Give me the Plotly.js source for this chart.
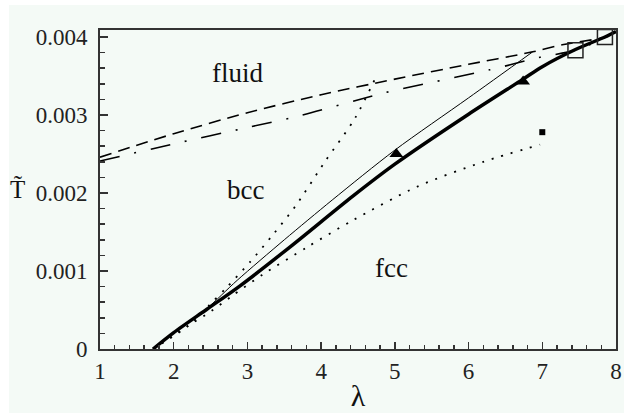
<!DOCTYPE html>
<html>
<head>
<meta charset="utf-8">
<script src="https://cdn.plot.ly/plotly-3.0.1.min.js"></script>
<style>
  body { margin: 0; background: #ffffff; }
  #plot { width: 624px; height: 413px; }
</style>
</head>
<body>
<div id="plot"></div>
<script>
// bcc-fcc coexistence (thick solid)
let thickX = [1.72, 2.0, 2.45, 2.9, 3.58, 4.43, 5.0, 6.0, 6.74, 7.0, 7.45, 7.85, 8.0]
let thickY = [0, 0.00021, 0.00051, 0.00081, 0.00131, 0.00196, 0.00237, 0.00301, 0.00346, 0.00362, 0.00384, 0.004, 0.00407]

// thin solid curve
let thinX = [1.72, 2.0, 2.45, 2.86, 3.5, 4.15, 5.0, 6.0, 6.87]
let thinY = [0, 0.00021, 0.00052, 0.00088, 0.0014, 0.00191, 0.00255, 0.00322, 0.00381]

// dotted curves
let dotUpX = [1.72, 2.2, 2.48, 2.71, 3.04, 3.35, 3.65, 4.05, 4.46, 4.76]
let dotUpY = [0, 0.0003, 0.00056, 0.00078, 0.00112, 0.00147, 0.00183, 0.0024, 0.00296, 0.00352]
let dotLowX = [1.72, 2.2, 2.5, 2.79, 3.2, 3.8, 4.43, 5.3, 6.2, 6.97]
let dotLowY = [0, 0.0003, 0.00048, 0.00068, 0.00095, 0.0013, 0.00165, 0.00208, 0.0024, 0.00262]

// dashed melting lines
let dashX = [1, 2, 3, 4, 5, 6, 6.87, 7.27, 7.85]
let dashY = [0.00246, 0.00276, 0.00303, 0.00326, 0.00346, 0.00365, 0.00381, 0.0039, 0.00399]
let dashDotX = [1, 2, 3, 3.71, 4.84, 6.29, 6.97, 7.45, 7.85]
let dashDotY = [0.00241, 0.00263, 0.00284, 0.00299, 0.00328, 0.00358, 0.00374, 0.00383, 0.00399]

// simulation points
let triX = [5.02, 6.74]
let triY = [0.0025, 0.00343]
let openSqX = [7.45, 7.85]
let openSqY = [0.00383, 0.004]
let smallSqX = [7.0]
let smallSqY = [0.00278]

// region labels
let regionNames = ["fluid", "bcc", "fcc"]
let regionX = [2.86, 2.97, 4.96]
let regionY = [0.00354, 0.00204, 0.00104]

let xTicks = [1, 2, 3, 4, 5, 6, 7, 8]
let yTicks = [0, 0.001, 0.002, 0.003, 0.004]
let yTickText = ["0", "0.001", "0.002", "0.003", "0.004"]

let bg = "#f4faf6"
let serif = "Liberation Serif"

function lineTrace(x, y, width, dash) {
    return {
        x: x, y: y, type: "scatter", mode: "lines",
        line: {color: "#000000", width: width, dash: dash, shape: "spline", smoothing: 0.8},
        hoverinfo: "skip"
    }
}

let data = [
    lineTrace(dashX, dashY, 1.6, "12px,7px"),
    lineTrace(dashDotX, dashDotY, 1.6, "20px,15px,2px,15px"),
    lineTrace(dotUpX, dotUpY, 1.8, "2px,8px"),
    lineTrace(dotLowX, dotLowY, 1.8, "2px,8px"),
    lineTrace(thinX, thinY, 1, "solid"),
    lineTrace(thickX, thickY, 3.5, "solid"),
    {
        x: triX, y: triY, type: "scatter", mode: "markers",
        marker: {symbol: "triangle-up", size: 12, color: "#000000"}
    },
    {
        x: openSqX, y: openSqY, type: "scatter", mode: "markers",
        marker: {symbol: "square-open", size: 15, color: "#222222", line: {width: 1.5}}
    },
    {
        x: smallSqX, y: smallSqY, type: "scatter", mode: "markers",
        marker: {symbol: "square", size: 6, color: "#000000"}
    }
]

let annotations = []
for (let i = 0; i < regionNames.length; i++) {
    annotations.push({
        x: regionX[i], y: regionY[i], xref: "x", yref: "y",
        text: regionNames[i], showarrow: false,
        font: {family: serif, size: 27, color: "#111111"}
    })
}
// y axis label, upright
annotations.push({
    x: -0.178, y: 0.5, xref: "paper", yref: "paper",
    text: "T\u0303", showarrow: false,
    font: {family: serif, size: 25, color: "#111111"}
})

let axisCommon = {
    showgrid: false, zeroline: false,
    showline: true, linecolor: "#333333", linewidth: 2, mirror: true,
    ticks: "inside", tickcolor: "#333333", tickwidth: 1.5,
    tickfont: {family: serif, size: 23, color: "#222222"},
    fixedrange: true
}

let layout = {
    width: 624, height: 413,
    margin: {l: 100, r: 8, t: 30, b: 64},
    paper_bgcolor: bg, plot_bgcolor: bg,
    showlegend: false,
    xaxis: Object.assign({}, axisCommon, {
        range: [1, 8], tickmode: "array", tickvals: xTicks, ticklen: 7,
        minor: {dtick: 0.2, ticklen: 4, tickcolor: "#333333", ticks: "inside"},
        title: {text: "λ", font: {family: serif, size: 30, color: "#111111"}, standoff: 2}
    }),
    yaxis: Object.assign({}, axisCommon, {
        range: [0, 0.00409], tickmode: "array", tickvals: yTicks, ticktext: yTickText, ticklen: 8,
        ticklabelstandoff: 6,
        minor: {dtick: 0.0002, ticklen: 5, tickcolor: "#333333", ticks: "inside"}
    }),
    annotations: annotations,
    shapes: [
        {type: "rect", xref: "paper", yref: "paper", x0: -0.2, x1: -0.1764, y0: -0.21, y1: 1.1,
         fillcolor: "#ffffff", line: {width: 0}, layer: "below"},
        {type: "rect", xref: "paper", yref: "paper", x0: -0.2, x1: 1.02, y0: 1.0784, y1: 1.1,
         fillcolor: "#ffffff", line: {width: 0}, layer: "below"}
    ]
}

Plotly.newPlot("plot", data, layout, {displayModeBar: false, staticPlot: true})
</script>
</body>
</html>
